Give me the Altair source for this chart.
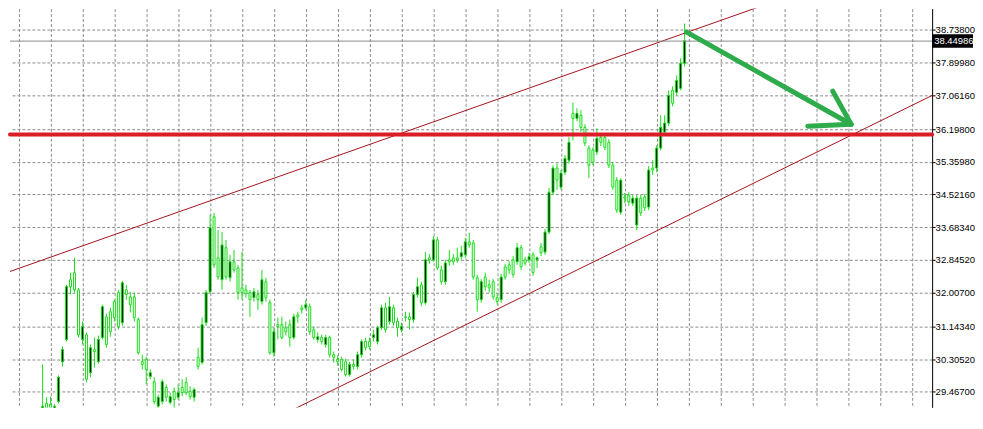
import altair as alt
import pandas as pd

# ---- candle data (price values) ----
opens = [
    28.25, 29.17, 29.15, 28.71, 29.22, 30.24, 30.81, 32.34, 32.52, 32.08,
    30.81, 30.93, 29.96, 30.55, 30.24, 30.86, 31.39, 31.52, 31.78, 32.01,
    31.24, 32.08, 31.90, 31.90, 31.32, 30.24, 30.30, 29.86, 29.73, 29.10,
    29.22, 29.58, 29.20, 29.48, 29.33, 29.58, 29.71, 29.48, 29.33, 30.35,
    30.22, 31.24, 32.03, 33.95, 32.90, 32.34, 33.16, 32.39, 32.80, 32.64,
    32.13, 32.08, 32.01, 31.88, 31.96, 31.78, 32.29, 31.75, 30.47, 31.19,
    31.19, 31.11, 31.19, 30.86, 31.44, 31.62, 31.62, 31.65, 31.06, 30.81,
    30.86, 30.68, 30.86, 30.42, 30.30, 30.30, 30.24, 29.91, 30.17, 30.12,
    30.42, 30.76, 30.76, 30.86, 30.76, 31.11, 31.62, 31.27, 31.62, 31.27,
    31.06, 31.39, 31.39, 31.32, 31.96, 32.21, 31.75, 32.90, 32.85, 33.36,
    32.59, 32.29, 32.85, 32.90, 32.90, 32.93, 32.98, 33.31, 33.28, 32.39,
    31.83, 32.41, 32.21, 32.29, 31.88, 31.83, 32.67, 32.72, 32.85, 32.80,
    33.16, 32.85, 32.85, 32.98, 32.85, 33.18, 33.05, 33.56, 34.58, 35.20,
    34.71, 35.09, 35.40, 36.60, 36.47, 36.55, 36.24, 35.71, 35.66, 35.61,
    35.99, 35.99, 35.86, 35.27, 34.89, 34.07, 34.46, 34.51, 34.30, 33.74,
    34.43, 34.46, 34.20, 35.20, 35.20, 35.71, 36.12, 36.35, 37.19, 37.14,
    37.24, 37.88,
]
highs = [
    30.17, 29.33, 29.35, 29.15, 29.89, 30.63, 32.21, 32.52, 32.90, 32.13,
    31.27, 30.99, 30.68, 30.86, 30.91, 31.70, 31.47, 31.62, 31.83, 32.08,
    32.31, 32.21, 32.03, 32.01, 31.37, 30.42, 30.37, 30.04, 29.84, 29.40,
    29.79, 29.66, 29.45, 29.58, 29.66, 29.79, 29.84, 29.61, 29.58, 30.60,
    31.37, 32.08, 34.00, 34.05, 33.61, 33.56, 33.36, 32.98, 33.10, 32.72,
    33.05, 32.21, 32.08, 32.13, 32.08, 32.59, 32.39, 31.83, 31.11, 31.37,
    31.39, 31.27, 31.32, 31.47, 31.52, 31.70, 31.83, 31.73, 31.14, 30.99,
    30.93, 30.93, 30.91, 30.50, 30.40, 30.37, 30.32, 30.24, 30.30, 30.50,
    30.81, 30.86, 30.86, 31.06, 31.16, 31.70, 31.75, 31.90, 31.70, 31.37,
    31.24, 31.52, 31.50, 32.03, 32.39, 32.29, 33.05, 33.00, 33.46, 33.44,
    32.70, 32.85, 33.10, 33.00, 33.16, 33.21, 33.41, 33.54, 33.36, 32.47,
    32.36, 32.52, 32.34, 32.36, 31.98, 32.49, 32.75, 32.82, 32.95, 33.28,
    33.23, 32.93, 33.03, 33.05, 32.93, 33.28, 33.64, 34.69, 35.27, 35.32,
    35.15, 35.53, 35.99, 36.88, 36.73, 36.68, 36.32, 35.78, 35.73, 36.22,
    36.09, 36.07, 35.94, 35.35, 34.97, 34.94, 34.56, 34.58, 34.51, 34.51,
    34.51, 34.53, 35.25, 35.40, 35.78, 36.55, 36.55, 37.19, 37.29, 37.57,
    38.01, 38.90,
]
lows = [
    28.13, 28.84, 28.76, 28.66, 29.17, 30.12, 30.76, 31.96, 32.01, 30.86,
    30.68, 29.71, 29.84, 30.09, 30.19, 30.81, 30.60, 30.88, 31.27, 31.06,
    31.16, 31.83, 31.50, 31.27, 30.42, 30.04, 29.66, 29.79, 29.15, 28.84,
    29.15, 29.22, 29.15, 28.84, 29.27, 29.35, 29.38, 29.27, 29.22, 30.04,
    30.17, 31.16, 31.98, 32.64, 32.34, 32.08, 32.34, 32.29, 32.52, 31.83,
    31.83, 31.88, 31.39, 31.78, 31.57, 31.70, 31.78, 30.42, 30.37, 30.81,
    30.81, 30.91, 30.63, 30.81, 31.24, 31.47, 31.57, 30.93, 30.81, 30.73,
    30.68, 30.60, 30.35, 30.22, 30.14, 29.99, 29.86, 29.86, 30.04, 30.04,
    30.35, 30.53, 30.55, 30.76, 30.68, 31.06, 30.99, 31.19, 31.16, 30.88,
    30.99, 31.27, 31.06, 31.24, 31.88, 31.67, 31.70, 32.75, 32.80, 32.59,
    32.21, 32.21, 32.70, 32.72, 32.77, 32.85, 32.90, 33.16, 32.34, 31.52,
    31.75, 32.06, 32.01, 31.83, 31.70, 31.75, 32.34, 32.49, 32.39, 32.72,
    32.59, 32.70, 32.77, 32.44, 32.64, 32.95, 32.98, 33.51, 34.51, 34.64,
    34.64, 35.02, 35.32, 35.91, 36.40, 36.12, 35.76, 34.94, 35.27, 35.53,
    35.76, 35.66, 35.20, 34.64, 34.05, 34.00, 34.30, 34.23, 34.23, 33.61,
    33.97, 34.10, 34.12, 35.02, 35.09, 35.66, 36.04, 36.27, 36.78, 37.06,
    37.19, 37.80,
]
closes = [
    29.10, 28.92, 28.89, 29.10, 29.84, 30.55, 32.16, 32.16, 32.08, 30.93,
    31.14, 29.79, 30.60, 30.50, 30.81, 31.65, 30.68, 31.01, 31.37, 31.14,
    32.26, 31.96, 31.70, 31.37, 30.47, 30.17, 30.04, 29.96, 29.22, 29.33,
    29.73, 29.33, 29.35, 29.27, 29.45, 29.45, 29.45, 29.35, 29.53, 30.12,
    31.19, 32.01, 33.67, 32.72, 32.41, 33.23, 32.41, 32.80, 32.59, 32.01,
    32.01, 31.98, 31.83, 32.03, 31.83, 32.34, 31.88, 30.47, 31.01, 31.14,
    30.86, 31.01, 30.86, 31.39, 31.39, 31.57, 31.70, 31.01, 30.86, 30.88,
    30.76, 30.86, 30.42, 30.35, 30.24, 30.04, 29.91, 30.17, 30.12, 30.42,
    30.76, 30.60, 30.63, 30.93, 31.11, 31.62, 31.06, 31.65, 31.24, 31.11,
    31.14, 31.37, 31.32, 31.96, 32.16, 31.75, 32.85, 32.85, 33.36, 32.64,
    32.29, 32.77, 32.80, 32.80, 32.85, 33.03, 33.31, 33.23, 32.41, 31.83,
    32.29, 32.16, 32.13, 31.90, 31.78, 32.41, 32.41, 32.59, 32.47, 33.16,
    32.67, 32.77, 32.93, 32.52, 32.90, 33.03, 33.56, 34.58, 35.20, 34.89,
    35.07, 35.45, 35.86, 36.47, 36.60, 36.24, 35.84, 35.27, 35.35, 35.96,
    35.86, 35.73, 35.27, 34.71, 34.12, 34.89, 34.43, 34.33, 34.43, 34.43,
    34.05, 34.18, 35.15, 35.15, 35.71, 36.24, 36.35, 37.06, 36.86, 37.44,
    37.88, 38.46,
]

# ---- axis / annotation values ----
y_tick_values = [38.738, 37.8998, 37.0616, 36.198, 35.3598, 34.5216, 33.6834,
                 32.8452, 32.007, 31.1434, 30.3052, 29.467, 28.6288]
x_grid_bars = list(range(-6, 219, 8))

support_level = 36.058
bid_price = 38.44986

upper_bars = [-8.2, 200.0]
upper_prices = [32.55, 40.06]
lower_bars = [57.75, 223.1]
lower_prices = [28.76, 37.06]

arrow_seg = ["shaft", "shaft", "head1", "head1", "head2", "head2"]
arrow_bars = [161.5, 202.75, 191.9, 202.75, 198.15, 202.75]
arrow_prices = [38.68, 36.32, 36.27, 36.32, 37.17, 36.32]

# ---- styling ----
W, H = 925, 400
X_DOMAIN = [-8.175, 223.075]
Y_DOMAIN = [29.071, 39.282]
GREEN = "#19dc19"
FONT = "Liberation Sans"
LABEL_SIZE = 9.5

candles = pd.DataFrame({
    "bar": list(range(len(opens))),
    "open": opens, "high": highs, "low": lows, "close": closes,
})
candles["dir"] = ["up" if c >= o else "down" for o, c in zip(opens, closes)]

x_axis = alt.Axis(values=x_grid_bars, labels=False, ticks=False, domain=False,
                  grid=True, title=None)
y_axis = alt.Axis(orient="right", values=y_tick_values, format=".5f", grid=True,
                  title=None, domain=True, domainColor="black", ticks=True,
                  tickColor="black", tickSize=3, labelColor="black",
                  labelFont=FONT, labelFontSize=LABEL_SIZE, labelPadding=0,
                  labelOverlap=False)
xs = alt.Scale(domain=X_DOMAIN, nice=False, zero=False, padding=0)
ys = alt.Scale(domain=Y_DOMAIN, nice=False, zero=False, padding=0)


def X(f):
    return alt.X(f, type="quantitative", scale=xs, axis=x_axis)


def Y(f):
    return alt.Y(f, type="quantitative", scale=ys, axis=y_axis)


wicks = alt.Chart(candles).mark_rule(color=GREEN, strokeWidth=1, clip=True).encode(
    x=X("bar"), y=Y("low"), y2=alt.Y2("high"))

bodies = alt.Chart(candles).mark_bar(size=2, stroke=GREEN, strokeWidth=1,
                                     clip=True).encode(
    x=X("bar"), y=Y("open"), y2=alt.Y2("close"),
    color=alt.Color("dir:N", scale=alt.Scale(domain=["up", "down"],
                                            range=["#000000", "#ffffff"]),
                    legend=None))

trend_df = pd.DataFrame({
    "bar": upper_bars + lower_bars,
    "price": upper_prices + lower_prices,
    "line": ["upper", "upper", "lower", "lower"],
})
trends = alt.Chart(trend_df).mark_line(color="#a4141c", strokeWidth=1,
                                       clip=True).encode(
    x=X("bar"), y=Y("price"), detail="line:N")

support = alt.Chart(pd.DataFrame({"price": [support_level]})).mark_rule(
    color="#dc1c26", strokeWidth=4, strokeCap="round").encode(y=Y("price"))

bid = alt.Chart(pd.DataFrame({"price": [bid_price]})).mark_rule(
    color="#8a8a8a", strokeWidth=1).encode(y=Y("price"))

arrow_df = pd.DataFrame({"bar": arrow_bars, "price": arrow_prices, "seg": arrow_seg})
arrow = alt.Chart(arrow_df).mark_line(color="#2eac4c", strokeWidth=5,
                                      strokeCap="round", strokeJoin="round").encode(
    x=X("bar"), y=Y("price"), detail="seg:N")

label_df = pd.DataFrame({"price": [bid_price], "label": [f"{bid_price:.5f}"]})
label_box = alt.Chart(label_df).mark_point(
    shape="M-1,-0.33L1,-0.33L1,0.33L-1,0.33Z", size=1681, filled=True,
    color="black", opacity=1, strokeWidth=0).encode(
    x=alt.value(W + 20.5), y=Y("price"))
label_text = alt.Chart(label_df).mark_text(
    align="left", baseline="middle", color="white", font=FONT,
    fontSize=LABEL_SIZE).encode(x=alt.value(W + 2), y=Y("price"), text="label:N")

chart = alt.layer(
    wicks, bodies, trends, support, bid, arrow, label_box, label_text
).properties(
    width=W, height=H, padding={"left": 0, "top": 0, "right": 0, "bottom": 0},
    background="white",
).configure_view(stroke=None).configure_axis(
    gridColor="#8c8c8c", gridDash=[3, 2], gridWidth=1, gridOpacity=1,
)

chart.save("out.html", embed_options={"renderer": "svg", "actions": False})
